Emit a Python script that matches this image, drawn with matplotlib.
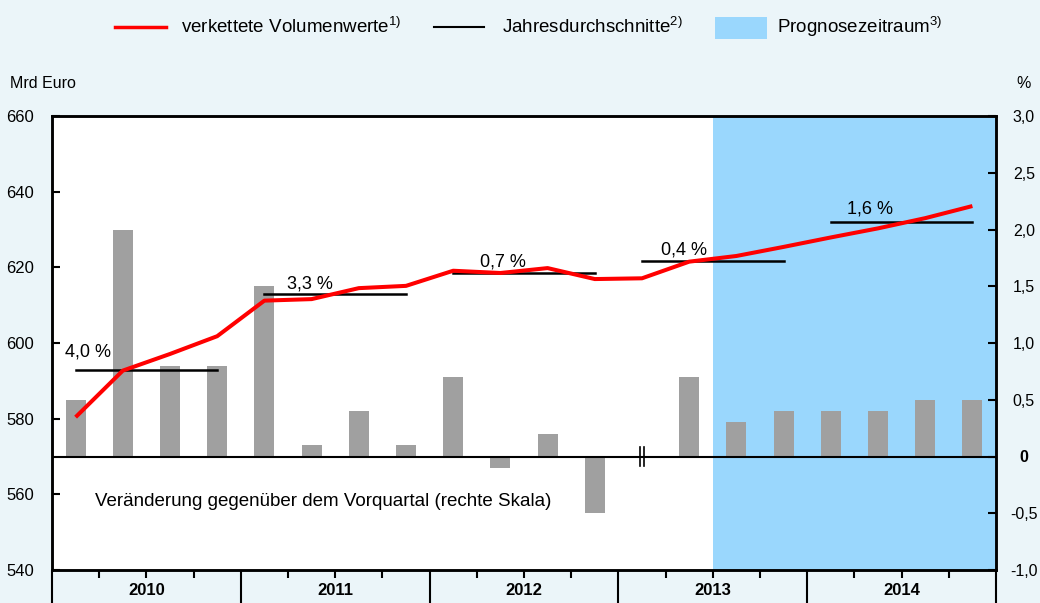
import matplotlib
matplotlib.use("Agg")
import matplotlib.pyplot as plt
from matplotlib.lines import Line2D
from matplotlib.patches import Rectangle

plt.rcParams['font.family'] = ['Liberation Sans', 'DejaVu Sans']
plt.rcParams['mathtext.fontset'] = 'custom'
plt.rcParams['mathtext.rm'] = 'Liberation Sans'

# ---- data ----
years = ["2010", "2011", "2012", "2013", "2014"]
volume = [580.4, 592.7, 597.1, 601.8,
          611.2, 611.6, 614.5, 615.1,
          619.1, 618.5, 619.8, 616.9,
          617.1, 621.5, 623.0, 625.4,
          627.9, 630.3, 633.0, 636.2]
annual_avg = [592.9, 613.0, 618.5, 621.7, 631.9]
annual_growth = ["4,0 %", "3,3 %", "0,7 %", "0,4 %", "1,6 %"]
qoq_change = [0.5, 2.0, 0.8, 0.8,
              1.5, 0.1, 0.4, 0.1,
              0.7, -0.1, 0.2, -0.5,
              0.0, 0.7, 0.3, 0.4,
              0.4, 0.4, 0.5, 0.5]
forecast_start_q = 14  # Q3 2013
left_ticks = [540, 560, 580, 600, 620, 640, 660]
right_ticks = [-1.0, -0.5, 0.0, 0.5, 1.0, 1.5, 2.0, 2.5, 3.0]
right_labels = ["-1,0", "-0,5", "0", "0,5", "1,0", "1,5", "2,0", "2,5", "3,0"]

W, H = 1040, 603
fig = plt.figure(figsize=(W / 100, H / 100), dpi=100)
fig.patch.set_facecolor('#EBF5F9')

L, R, T, B = 52, 996, 116, 570
ax = fig.add_axes([L / W, 1 - B / H, (R - L) / W, (B - T) / H])
ax2 = ax.twinx()

n = len(volume)
xs = list(range(n))

# right axis: bars, forecast shading
ax2.patch.set_visible(True)
ax2.patch.set_facecolor('white')
ax.patch.set_visible(False)
ax.set_zorder(ax2.get_zorder() + 1)

ax2.axvspan(forecast_start_q - 0.5, n - 0.5, color='#9AD7FD', lw=0, zorder=0)
ax2.bar(xs, qoq_change, width=0.42, color='#A0A0A0', zorder=2)
ax2.axhline(0, color='black', lw=1.5, zorder=3)
ax2.set_ylim(-1.0, 3.0)
ax2.set_yticks(right_ticks)
ax2.set_yticklabels(right_labels)
ax2.tick_params(axis='y', direction='in', length=6, width=1.5, pad=20,
                labelsize=11.5, colors='black')
for lab in ax2.get_yticklabels():
    lab.set_horizontalalignment('center')
    if lab.get_text() == "0":
        lab.set_fontweight('bold')

# break marker at Q1 2013
for dx in (-0.05, 0.05):
    ax2.plot([12 + dx, 12 + dx], [-0.08, 0.08], color='black', lw=1.2, zorder=4)

ax2.text(0.41, -0.4, "Veränderung gegenüber dem Vorquartal (rechte Skala)",
         fontsize=13.5, va='center', ha='left', zorder=5)

# left axis: line and annual averages
ax.plot(xs, volume, color='#FF0000', lw=2.9, zorder=5, solid_capstyle='butt')
for k, avg in enumerate(annual_avg):
    ax.plot([4 * k, 4 * k + 3], [avg, avg], color='black', lw=1.8, zorder=4)

label_pos = [(0.26, 597.6), (4.97, 615.6), (9.05, 621.4), (12.9, 624.6), (16.83, 635.5)]
for (lx, ly), g in zip(label_pos, annual_growth):
    ax.text(lx, ly, g, fontsize=13, ha='center', va='center', zorder=6)

ax.set_xlim(-0.5, n - 0.5)
ax.set_ylim(540, 660)
ax.set_yticks(left_ticks)
ax.tick_params(axis='y', direction='in', length=6, width=1.5, pad=13,
               labelsize=12)

# x ticks: year boundaries (long) and quarter boundaries (short)
ax.set_xticks([4 * k - 0.5 for k in range(len(years) + 1)])
ax.set_xticks([q - 0.5 for q in range(n + 1) if q % 4 != 0], minor=True)
ax.tick_params(axis='x', which='major', direction='out', length=26, width=1.5,
               labelbottom=False)
ax.tick_params(axis='x', which='minor', direction='out', length=6, width=1.5,
               labelbottom=False)
for k, y in enumerate(years):
    ax.text(4 * k + 1.5, -0.045, y, transform=ax.get_xaxis_transform(),
            ha='center', va='center', fontsize=12, fontweight='bold')

for a in (ax, ax2):
    for s in a.spines.values():
        s.set_linewidth(1.8)
        s.set_color('black')

# axis titles
fig.text(10 / W, 1 - 84 / H, "Mrd Euro", fontsize=11.5, ha='left', va='center')
fig.text(1031 / W, 1 - 84 / H, "%", fontsize=11.5, ha='right', va='center')

# legend (manual)
ly = 1 - 27 / H
fig.add_artist(Line2D([115 / W, 166 / W], [ly, ly], color='#FF0000', lw=2.5))
fig.text(181 / W, ly, "verkettete Volumenwerte$^{1)}$", fontsize=13.5, va='center')
fig.add_artist(Line2D([434 / W, 484 / W], [ly, ly], color='black', lw=1.5))
fig.text(502 / W, ly, "Jahresdurchschnitte$^{2)}$", fontsize=13.5, va='center')
fig.add_artist(Rectangle((715 / W, 1 - 39 / H), 52 / W, 22 / H,
                         color='#9AD7FD', transform=fig.transFigure, lw=0))
fig.text(777 / W, ly, "Prognosezeitraum$^{3)}$", fontsize=13.5, va='center')

fig.savefig("out.png", dpi=100, facecolor=fig.get_facecolor())
